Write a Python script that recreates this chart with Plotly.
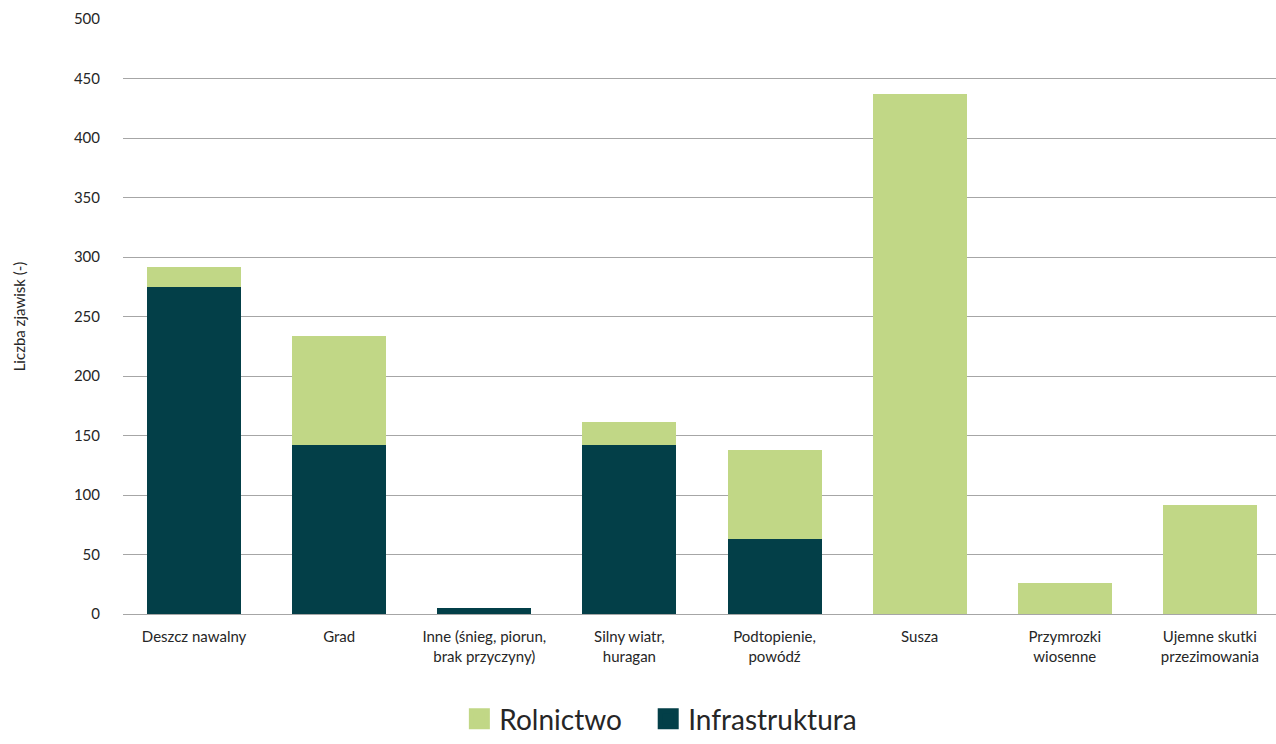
import plotly.graph_objects as go

categories = [
    "Deszcz nawalny",
    "Grad",
    "Inne (śnieg, piorun,<br>brak przyczyny)",
    "Silny wiatr,<br>huragan",
    "Podtopienie,<br>powódź",
    "Susza",
    "Przymrozki<br>wiosenne",
    "Ujemne skutki<br>przezimowania",
]
infrastruktura = [275, 142, 5, 142, 63, 0, 0, 0]
rolnictwo = [17, 92, 0, 19, 75, 437, 26, 92]
y_ticks = [0, 50, 100, 150, 200, 250, 300, 350, 400, 450, 500]

GREEN = "#c1d786"
TEAL = "#033f48"
FONT = "Lato, 'Open Sans', sans-serif"

fig = go.Figure()
fig.add_trace(go.Bar(x=categories, y=infrastruktura, name="Infrastruktura",
                     marker=dict(color=TEAL, line=dict(width=0)), showlegend=False))
fig.add_trace(go.Bar(x=categories, y=rolnictwo, name="Rolnictwo",
                     marker=dict(color=GREEN, line=dict(width=0)), showlegend=False))
# legend entries
fig.add_trace(go.Scatter(x=[None], y=[None], mode="markers", name="Rolnictwo",
                         legend="legend",
                         marker=dict(symbol="square", size=16, color=GREEN,
                                     line=dict(color=GREEN, width=5))))
fig.add_trace(go.Scatter(x=[None], y=[None], mode="markers", name="Infrastruktura",
                         legend="legend2",
                         marker=dict(symbol="square", size=16, color=TEAL,
                                     line=dict(color=TEAL, width=5))))

legend_style = dict(orientation="h", xref="container", yref="container",
                    xanchor="left", y=0.0, yanchor="bottom",
                    font=dict(size=28, color="#262626"), itemwidth=30)

fig.update_layout(
    width=1276, height=744,
    barmode="stack", bargap=0.352,
    plot_bgcolor="white", paper_bgcolor="white",
    margin=dict(l=123, r=0, t=19, b=130, autoexpand=False),
    font=dict(family=FONT, size=15, color="#262626"),
    legend=dict(x=0.36, **legend_style),
    legend2=dict(x=0.508, **legend_style),
)
fig.update_yaxes(range=[0, 500], tickvals=y_ticks, showgrid=True,
                 gridcolor="#a6a6a6", gridwidth=1.3, zeroline=True,
                 zerolinecolor="#a6a6a6", zerolinewidth=1.3,
                 ticks="", ticklabelstandoff=22,
                 title=dict(text="Liczba zjawisk (-)", font=dict(size=15), standoff=44),
                 fixedrange=True)
fig.update_xaxes(showgrid=False, showline=False, ticks="", tickfont=dict(size=15),
                 range=[-0.49, 7.456],
                 ticklabelstandoff=12, fixedrange=True)

fig.write_html("out.html")
